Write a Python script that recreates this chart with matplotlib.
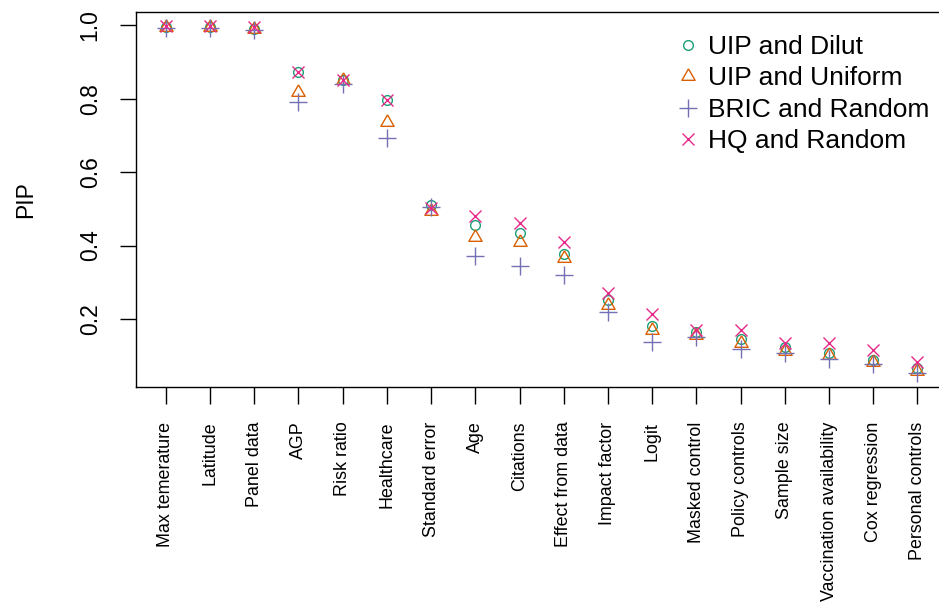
import numpy as np
import matplotlib
matplotlib.use("Agg")
import matplotlib.pyplot as plt

plt.rcParams['font.family'] = ['Liberation Sans', 'DejaVu Sans']

labels = ["Max temerature", "Latitude", "Panel data", "AGP", "Risk ratio",
          "Healthcare", "Standard error", "Age", "Citations", "Effect from data",
          "Impact factor", "Logit", "Masked control", "Policy controls",
          "Sample size", "Vaccination availability", "Cox regression",
          "Personal controls"]

uip_dilut = [0.995, 0.995, 0.99, 0.873, 0.85, 0.796, 0.51, 0.456, 0.435,
             0.377, 0.252, 0.181, 0.165, 0.145, 0.125, 0.108, 0.088, 0.066]
uip_uniform = [0.995, 0.995, 0.99, 0.819, 0.85, 0.737, 0.495, 0.424, 0.41,
               0.365, 0.238, 0.17, 0.156, 0.134, 0.114, 0.102, 0.084, 0.059]
bric_random = [0.993, 0.993, 0.987, 0.791, 0.84, 0.694, 0.506, 0.371, 0.344,
               0.32, 0.22, 0.138, 0.15, 0.118, 0.107, 0.09, 0.078, 0.054]
hq_random = [0.998, 0.998, 0.995, 0.873, 0.852, 0.796, 0.501, 0.48, 0.462,
             0.41, 0.27, 0.215, 0.17, 0.17, 0.134, 0.134, 0.116, 0.084]

x = np.arange(1, len(labels) + 1)

# triangolo equilatero come pch=2 di R
tri = [(0, 1), (0.866, -0.5), (-0.866, -0.5), (0, 1)]

fig = plt.figure(figsize=(9.39, 6.04), dpi=100)
ax = fig.add_axes([0.1445, 0.3593, 0.8646, 0.6203])

lw = 1.0
ax.plot(x, uip_dilut, ls='none', marker='o', ms=7, mfc='none', mec='#1B9E77',
        mew=lw, label='UIP and Dilut')
ax.plot(x, uip_uniform, ls='none', marker=tri, ms=11, mfc='none', mec='#D95F02',
        mew=lw, label='UIP and Uniform')
ax.plot(x, bric_random, ls='none', marker='+', ms=13, mec='#7570B3',
        mew=lw, label='BRIC and Random')
ax.plot(x, hq_random, ls='none', marker='x', ms=9, mec='#E7298A',
        mew=lw, label='HQ and Random')

ax.set_xlim(0.32, 18.68)
ax.set_ylim(0.015, 1.035)
ax.set_yticks([0.2, 0.4, 0.6, 0.8, 1.0])
ax.set_yticklabels(["0.2", "0.4", "0.6", "0.8", "1.0"], rotation=90, va='center')
ax.set_xticks(x)
ax.set_xticklabels(labels, rotation=90, fontsize=12.9)
ax.tick_params(axis='y', length=11.5, width=1, labelsize=16.5, pad=13)
ax.tick_params(axis='x', length=12, width=1, pad=13)
ax.set_ylabel("PIP", fontsize=16.5, labelpad=30)
for s in ax.spines.values():
    s.set_linewidth(1)

ax.legend(loc='upper left', bbox_to_anchor=(675 / 939, 1 - 35 / 604),
          bbox_transform=fig.transFigure, frameon=False, fontsize=19,
          handlelength=1.0, handletextpad=0.25, labelspacing=0.28,
          borderpad=0, borderaxespad=0)

fig.savefig("out.png", dpi=100)
